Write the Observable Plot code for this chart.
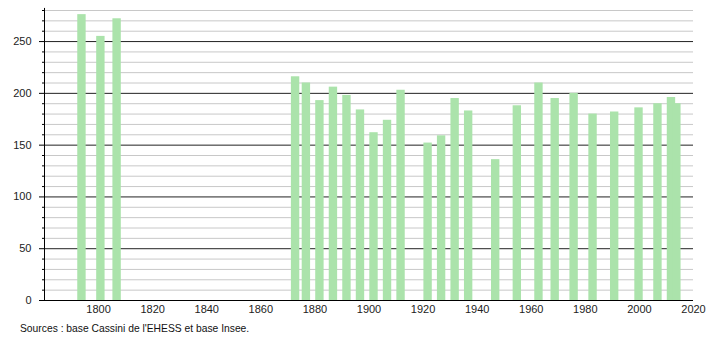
<!DOCTYPE html>
<html>
<head>
<meta charset="utf-8">
<script src="https://cdn.jsdelivr.net/npm/d3@7"></script>
<script src="https://cdn.jsdelivr.net/npm/@observablehq/plot@0.6"></script>
<style>
  body { margin: 0; background: #fff; font-family: "Liberation Sans", Arial, sans-serif; }
  #chart svg { display: block; }
  .bars { filter: blur(0.6px); }
  #caption { font-size: 10.3px; color: #111; padding-left: 20px; margin-top: 2px; line-height: 14px; }
</style>
</head>
<body>
<div id="chart"></div>
<div id="caption">Sources : base Cassini de l'EHESS et base Insee.</div>
<script>
const years = [1793,1800,1806,1872,1876,1881,1886,1891,1896,1901,1906,1911,1921,1926,1931,1936,1946,1954,1962,1968,1975,1982,1990,1999,2006,2011,2013];
const population = [276,255,272,216,210,193,206,198,184,162,174,203,152,159,195,183,136,188,210,195,200,180,182,186,190,196,190];
const xTicks = [1800,1820,1840,1860,1880,1900,1920,1940,1960,1980,2000,2020];
const yMajor = [0,50,100,150,200,250];
const yMinor = d3.range(0, 281, 10).filter(v => v % 50 !== 0);

const data = years.map((y, i) => ({year: y, pop: population[i]}));

const chart = Plot.plot({
  width: 710,
  height: 320,
  marginLeft: 44,
  marginRight: 17,
  marginTop: 10,
  marginBottom: 20,
  style: {fontFamily: "Liberation Sans, Arial, sans-serif", fontSize: "11px", color: "#222", background: "#fff"},
  x: {domain: [1780, 2020]},
  y: {domain: [0, 280]},
  marks: [
    Plot.ruleY(yMinor, {stroke: "#c8c8c8", strokeWidth: 1}),
    Plot.ruleY(yMajor.filter(v => v > 0), {stroke: "#222", strokeWidth: 1}),
    Plot.rectY(data, {x1: d => d.year - 0.7, x2: d => d.year + 2.4, y: "pop", fill: "#abe3ab", className: "bars"}),
    Plot.axisY(yMinor, {tickSize: 2, text: null, label: null, stroke: "#000"}),
    Plot.axisY(yMajor, {tickSize: 5, tickPadding: 8, label: null, stroke: "#000"}),
    Plot.axisX(xTicks, {tickSize: 0, tickPadding: 5, label: null, tickFormat: d => String(d)}),
    Plot.ruleX([1780], {y1: 0, y2: 282, stroke: "#000"}),
    Plot.ruleY([0], {stroke: "#000", strokeWidth: 1.2})
  ]
});
document.getElementById("chart").appendChild(chart);
</script>
</body>
</html>
